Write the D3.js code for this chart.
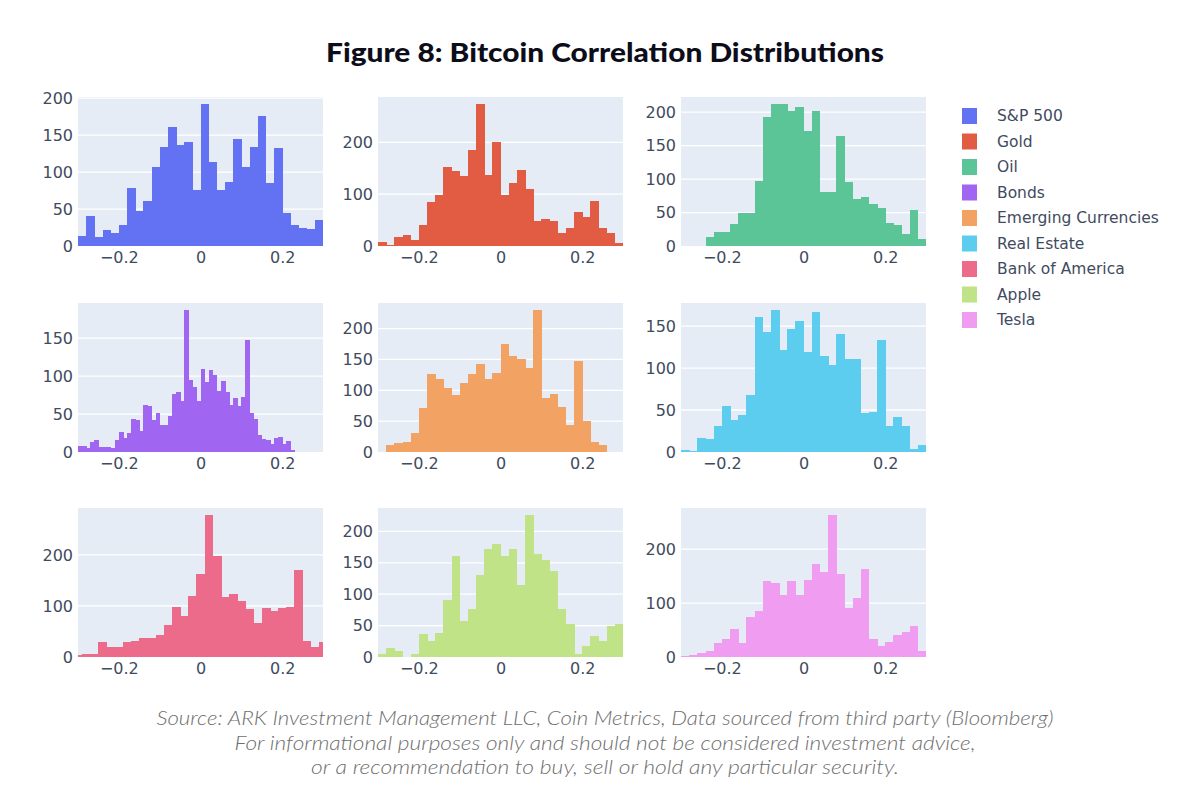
<!DOCTYPE html>
<html>
<head>
<meta charset="utf-8">
<script src="https://cdn.jsdelivr.net/npm/d3@7"></script>
<style>
  html, body { margin: 0; padding: 0; background: #ffffff; }
  svg { display: block; }
</style>
</head>
<body>
<svg id="chart" width="1200" height="806"></svg>
<script>
// ---------------- DATA ----------------
const categories = ["S&P 500", "Gold", "Oil", "Bonds", "Emerging Currencies",
                    "Real Estate", "Bank of America", "Apple", "Tesla"];

// first bin edge and bin width for each series
const binStart = [-0.30, -0.30, -0.30, -0.30, -0.28, -0.30, -0.31, -0.30, -0.30];
const binWidth = [0.02, 0.02, 0.02, 0.01, 0.02, 0.02, 0.02, 0.02, 0.02];

const spCounts = [14, 41, 12, 21, 17, 28, 78, 48, 61, 107, 134, 161, 137, 141, 76,
                  192, 114, 76, 87, 145, 107, 134, 176, 85, 132, 44, 29, 25, 23, 35];
const goldCounts = [8, 2, 17, 22, 12, 40, 84, 99, 152, 144, 136, 185, 274, 138, 201,
                    99, 121, 146, 110, 48, 53, 48, 25, 35, 66, 56, 87, 35, 25, 6];
const oilCounts = [0, 0, 0, 13, 21, 21, 33, 49, 49, 97, 192, 212, 212, 202, 208,
                   172, 202, 80, 80, 164, 96, 70, 73, 62, 57, 34, 31, 18, 54, 11];
const bondsCounts = [8, 8, 5, 13, 16, 7, 7, 7, 5, 16, 27, 19, 25, 43, 42, 28, 62, 61, 42, 51,
                     35, 35, 47, 77, 79, 67, 187, 95, 86, 67, 110, 92, 108, 102, 80, 93, 79, 62, 71, 61,
                     72, 147, 51, 43, 22, 17, 16, 10, 19, 20, 10, 15, 3];
const emergingCounts = [12, 14, 16, 31, 72, 127, 119, 104, 92, 112, 127, 143, 119, 128,
                        175, 156, 151, 136, 230, 88, 94, 73, 43, 147, 51, 16, 12];
const realEstateCounts = [2, 1, 17, 16, 31, 55, 38, 44, 68, 161, 143, 169, 121, 146, 156,
                          119, 167, 114, 104, 141, 111, 111, 47, 48, 133, 31, 42, 31, 4, 8];
const bofaCounts = [3, 5, 5, 29, 20, 20, 29, 31, 37, 37, 44, 63, 98, 80, 119, 162,
                    278, 198, 118, 124, 109, 94, 67, 96, 91, 96, 98, 171, 32, 20, 30];
const appleCounts = [5, 14, 10, 0, 5, 37, 26, 39, 90, 161, 57, 77, 130, 172, 180,
                     161, 172, 115, 226, 164, 154, 137, 77, 52, 4, 17, 33, 26, 49, 52];
const teslaCounts = [2, 4, 8, 12, 26, 34, 51, 26, 75, 85, 141, 138, 115, 141, 115,
                     143, 173, 157, 263, 153, 91, 109, 163, 34, 20, 28, 40, 47, 58, 12];

const seriesCounts = [spCounts, goldCounts, oilCounts, bondsCounts, emergingCounts,
                      realEstateCounts, bofaCounts, appleCounts, teslaCounts];

const yTickValues = [
  [0, 50, 100, 150, 200], [0, 100, 200], [0, 50, 100, 150, 200],
  [0, 50, 100, 150], [0, 50, 100, 150, 200], [0, 50, 100, 150],
  [0, 100, 200], [0, 50, 100, 150, 200], [0, 100, 200]
];
const xTickValues = [-0.2, 0, 0.2];
const xTickLabels = ["\u22120.2", "0", "0.2"];
const xDomain = [-0.3, 0.3];

const titleText = "Figure 8: Bitcoin Correlation Distributions";
const footerLines = [
  "Source: ARK Investment Management LLC, Coin Metrics, Data sourced from third party (Bloomberg)",
  "For informational purposes only and should not be considered investment advice,",
  "or a recommendation to buy, sell or hold any particular security."
];

// ---------------- STYLE / LAYOUT ----------------
const palette = ["#6372f2", "#e15c42", "#5cc597", "#a066f1", "#f2a263",
                 "#5ccdee", "#ec6b8b", "#c0e388", "#f09cf0"];
const colX = [78, 378, 681];
const rowTop = [97, 303, 508];
const panelW = 245, panelH = 149;
const tickColor = "#3f4b5e";
const tickFont = "'DejaVu Sans', sans-serif";
const footerWidths = [897, 741, 588];

const svg = d3.select("#chart");

// Title
svg.append("text")
  .attr("x", 605).attr("y", 62)
  .attr("text-anchor", "middle")
  .attr("font-family", "Lato, 'Open Sans', sans-serif")
  .attr("font-weight", 900)
  .attr("font-size", 26)
  .attr("textLength", 558)
  .attr("lengthAdjust", "spacingAndGlyphs")
  .attr("fill", "#0d0d1a")
  .text(titleText);

// Panels
categories.forEach((name, i) => {
  const col = i % 3, row = Math.floor(i / 3);
  const left = colX[col], top = rowTop[row];
  const counts = seriesCounts[i];
  const bins = counts.map((c, k) => ({
    x0: binStart[i] + k * binWidth[i],
    x1: binStart[i] + (k + 1) * binWidth[i],
    count: c
  }));

  const x = d3.scaleLinear().domain(xDomain).range([0, panelW]);
  const y = d3.scaleLinear().domain([0, d3.max(counts) * 1.05]).range([panelH, 0]);

  const g = svg.append("g").attr("transform", `translate(${left},${top})`);

  const clipId = "clip" + i;
  g.append("clipPath").attr("id", clipId)
    .append("rect").attr("width", panelW).attr("height", panelH);

  g.append("rect")
    .attr("width", panelW).attr("height", panelH)
    .attr("fill", "#e5ecf6");

  // grid lines
  g.selectAll("line.grid").data(yTickValues[i].filter(v => v > 0)).enter()
    .append("line")
    .attr("x1", 0).attr("x2", panelW)
    .attr("y1", d => y(d)).attr("y2", d => y(d))
    .attr("stroke", "#ffffff").attr("stroke-width", 1.3);

  // bars
  g.append("g").attr("clip-path", `url(#${clipId})`)
    .selectAll("rect").data(bins.filter(b => b.count > 0)).enter()
    .append("rect")
    .attr("shape-rendering", "crispEdges")
    .attr("x", d => x(d.x0))
    .attr("width", d => x(d.x1) - x(d.x0) + 0.6)
    .attr("y", d => y(d.count))
    .attr("height", d => y(0) - y(d.count))
    .attr("fill", palette[i]);

  // y axis
  const yAxis = d3.axisLeft(y).tickValues(yTickValues[i]).tickSize(0).tickPadding(5)
    .tickFormat(d3.format("d"));
  const ya = g.append("g").call(yAxis);
  ya.select(".domain").remove();
  ya.selectAll("text").attr("fill", tickColor)
    .attr("font-family", tickFont).attr("font-size", 16);

  // x axis
  const xAxis = d3.axisBottom(x).tickValues(xTickValues).tickSize(0).tickPadding(6)
    .tickFormat((d, k) => xTickLabels[k]);
  const xa = g.append("g").attr("transform", `translate(0,${panelH})`).call(xAxis);
  xa.select(".domain").remove();
  xa.selectAll("text").attr("fill", tickColor)
    .attr("font-family", tickFont).attr("font-size", 16);
});

// Legend
const legend = svg.append("g").attr("transform", "translate(962,108)");
categories.forEach((name, i) => {
  const ly = i * 25.5;
  legend.append("rect")
    .attr("x", 0).attr("y", ly)
    .attr("width", 15).attr("height", 16)
    .attr("fill", palette[i]);
  legend.append("text")
    .attr("x", 35).attr("y", ly + 8)
    .attr("dy", "0.35em")
    .attr("font-family", tickFont)
    .attr("font-size", 15.5)
    .attr("fill", tickColor)
    .text(name);
});

// Footer
svg.selectAll("text.footer").data(footerLines).enter()
  .append("text")
  .attr("class", "footer")
  .attr("x", 605)
  .attr("y", (d, k) => 725 + k * 24.5)
  .attr("text-anchor", "middle")
  .attr("font-family", "Lato, sans-serif")
  .attr("font-style", "italic")
  .attr("font-weight", 300)
  .attr("font-size", 19)
  .attr("textLength", (d, k) => footerWidths[k])
  .attr("lengthAdjust", "spacingAndGlyphs")
  .attr("fill", "#6e6e6e")
  .text(d => d);
</script>
</body>
</html>
